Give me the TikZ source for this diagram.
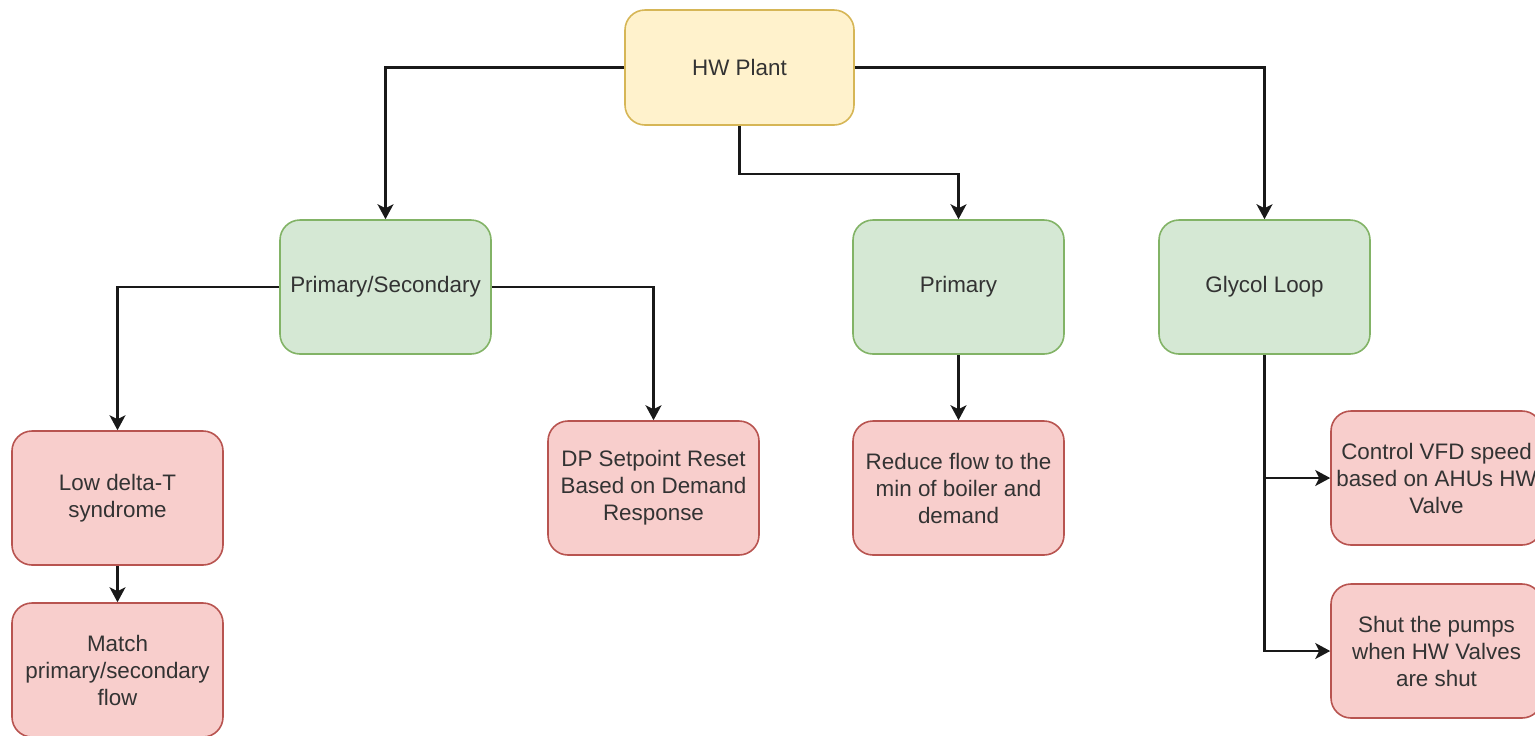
\documentclass[tikz,border=0pt]{standalone}
\usepackage{fontspec}
\setmainfont{Liberation Sans}
\usetikzlibrary{arrows.meta}
\definecolor{yfill}{HTML}{FFF2CC}
\definecolor{ydraw}{HTML}{D6B656}
\definecolor{gfill}{HTML}{D5E8D4}
\definecolor{gdraw}{HTML}{82B366}
\definecolor{rfill}{HTML}{F8CECC}
\definecolor{rdraw}{HTML}{B85450}
\definecolor{txt}{HTML}{333333}
\tikzset{
  box/.style={rectangle, rounded corners=10pt, line width=0.8pt, inner sep=0pt,
    minimum width=105.5pt, minimum height=67pt, align=center, text=txt,
    font=\fontsize{11.2pt}{13.5pt}\selectfont},
  top/.style={box, fill=yfill, draw=ydraw, minimum width=114.5pt, minimum height=57.5pt},
  mid/.style={box, fill=gfill, draw=gdraw},
  leaf/.style={box, fill=rfill, draw=rdraw},
  conn/.style={line width=1.1pt, draw=black!90},
  arr/.style={conn, -{Stealth[length=7.5pt,width=8pt,inset=2pt]}}
}
\begin{document}
\begin{tikzpicture}[x=0.5pt,y=-0.5pt]
\useasboundingbox (0,0) rectangle (1535,735);

% top level
\node[top] (hw) at (739.5,67.5) {HW Plant};

% second level
\node[mid] (ps)  at (385.5,287) {Primary/Secondary};
\node[mid] (pri) at (958.5,287) {Primary};
\node[mid] (gly) at (1264.5,287) {Glycol Loop};

% leaves
\node[leaf] (low)   at (117.5,498) {Low delta-T\\syndrome};
\node[leaf] (match) at (117.5,670) {Match\\primary/secondary\\flow};
\node[leaf] (dp)    at (653.5,488) {DP Setpoint Reset\\Based on Demand\\Response};
\node[leaf] (red)   at (958.5,488) {Reduce flow to the\\min of boiler and\\demand};
\node[leaf] (vfd)   at (1436.5,478) {Control VFD speed\\based on AHUs HW\\Valve};
\node[leaf] (shut)  at (1436.5,651) {Shut the pumps\\when HW Valves\\are shut};

% connectors
\draw[arr] (hw.west) -| (ps.north);
\draw[arr] (hw.south) -- ++(0,48) -| (pri.north);
\draw[arr] (hw.east) -| (gly.north);
\draw[arr] (ps.west) -| (low.north);
\draw[arr] (ps.east) -| (dp.north);
\draw[arr] (pri.south) -- (red.north);
\draw[arr] (low.south) -- (match.north);
\draw[arr] (gly.south) |- (shut.west);
\draw[arr] (gly.south |- vfd.west) -- (vfd.west);
\end{tikzpicture}
\end{document}
